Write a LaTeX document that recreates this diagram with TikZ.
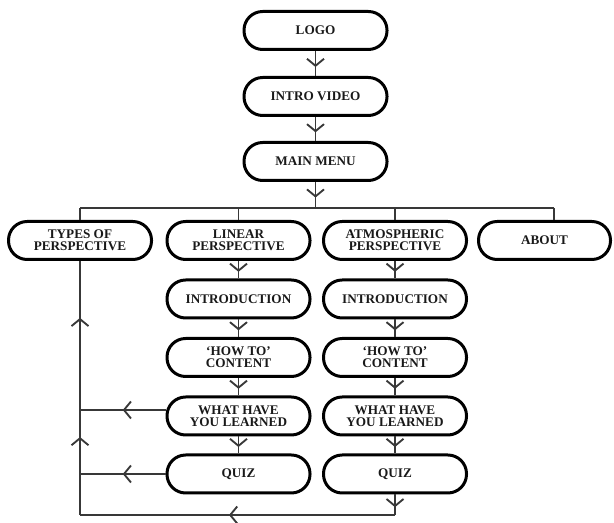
\documentclass[tikz,border=0pt]{standalone}
\usepackage{fontspec}
\setmainfont{Liberation Serif}
\usetikzlibrary{arrows.meta,decorations.markings}
\definecolor{linkgray}{HTML}{383838}
\begin{document}
\begin{tikzpicture}[x=0.75pt,y=-0.75pt,
  stage/.style={draw=black, line width=2.25pt, rounded corners=14pt,
    minimum width=107.25pt, minimum height=28.5pt, inner sep=0pt,
    align=center, text=black!90,
    font=\bfseries\fontsize{9.9}{9}\selectfont},
  link/.style={draw=linkgray, line width=1.4pt},
  chev/.style={postaction={decorate, decoration={markings,
    mark=at position #1 with {\arrow{Straight Barb[length=5.25pt,width=12.75pt]}}}}},
]
\useasboundingbox (0,0) rectangle (614,523);

% top sequence
\node[stage] (logo)  at (315.5,30.5)  {LOGO};
\node[stage] (intro) at (315.5,96.5)  {INTRO VIDEO};
\node[stage] (menu)  at (315.5,161.5) {MAIN MENU};

% menu branches
\node[stage] (types) at (80,240.5)    {TYPES OF\\PERSPECTIVE};
\node[stage] (lin)   at (238.5,240.5) {LINEAR\\PERSPECTIVE};
\node[stage] (atm)   at (395,240.5)   {ATMOSPHERIC\\PERSPECTIVE};
\node[stage, minimum width=99pt] (about) at (544.5,240.5) {ABOUT};

% linear perspective column
\node[stage] (lintro) at (238.5,299)   {INTRODUCTION};
\node[stage] (lhow)   at (238.5,357.5) {‘HOW TO’\\CONTENT};
\node[stage] (lwhat)  at (238.5,416)   {WHAT HAVE\\YOU LEARNED};
\node[stage] (lquiz)  at (238.5,474)   {QUIZ};

% atmospheric perspective column
\node[stage] (aintro) at (395,299)   {INTRODUCTION};
\node[stage] (ahow)   at (395,357.5) {‘HOW TO’\\CONTENT};
\node[stage] (awhat)  at (395,416)   {WHAT HAVE\\YOU LEARNED};
\node[stage] (aquiz)  at (395,474)   {QUIZ};

% junction points
\coordinate (hub)   at (315.5,208);
\coordinate (busL)  at (80,208);
\coordinate (busR)  at (554,208);
\coordinate (loopR) at (395,515);
\coordinate (loopL) at (80,515);
\coordinate (wj)    at ([yshift=4.5pt]lwhat.west);

% top flow
\draw[link, chev=0.64] (logo) -- (intro);
\draw[link, chev=0.64] (intro) -- (menu);
\draw[link, chev=0.6] (menu) -- (hub);

% branch bus
\draw[link] (busL) -- (busR);
\draw[link] (busL) -- (types);
\draw[link] (hub -| lin) -- (lin);
\draw[link] (hub -| atm) -- (atm);
\draw[link] (busR) -- (about.north -| busR);

% column flows
\draw[link, chev=0.62] (lin) -- (lintro);
\draw[link, chev=0.62] (lintro) -- (lhow);
\draw[link, chev=0.62] (lhow) -- (lwhat);
\draw[link, chev=0.62] (lwhat) -- (lquiz);
\draw[link, chev=0.62] (atm) -- (aintro);
\draw[link, chev=0.62] (aintro) -- (ahow);
\draw[link, chev=0.62] (ahow) -- (awhat);
\draw[link, chev=0.62] (awhat) -- (aquiz);

% return loop to types of perspective
\draw[link, chev=0.62] (aquiz) -- (loopR);
\draw[link, chev=0.527] (loopR) -- (loopL);
\draw[link, chev=0.307, chev=0.776] (loopL) -- (types);
\draw[link, chev=0.5] (wj) -- (wj -| loopL);
\draw[link, chev=0.5] (lquiz.west) -- (lquiz.west -| loopL);
\end{tikzpicture}
\end{document}
